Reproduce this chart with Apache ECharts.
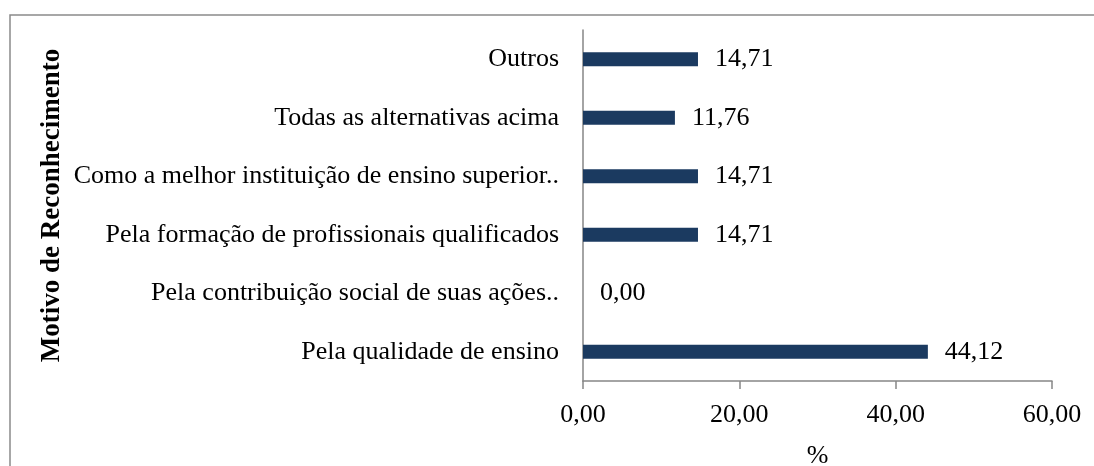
<!DOCTYPE html>
<html>
<head>
<meta charset="utf-8">
<script src="https://cdn.jsdelivr.net/npm/echarts@6/dist/echarts.min.js"></script>
<style>
html,body{margin:0;padding:0;background:#fff;}
#chart{width:1094px;height:466px;}
</style>
</head>
<body>
<div id="chart"></div>
<script>
var categories = [
  "Pela qualidade de ensino",
  "Pela contribuição social de suas ações..",
  "Pela formação de profissionais qualificados",
  "Como a melhor instituição de ensino superior..",
  "Todas as alternativas acima",
  "Outros"
];
var values = [44.12, 0.00, 14.71, 14.71, 11.76, 14.71];
var xTicks = { min: 0, max: 60, interval: 20 };

var font = "Liberation Serif";
function fmt(v){ return Number(v).toFixed(2).replace('.', ','); }

var chart = echarts.init(document.getElementById('chart'));
chart.setOption({
  animation: false,
  backgroundColor: '#fff',
  textStyle: { fontFamily: font },
  graphic: [{
    type: 'rect',
    shape: { x: 10, y: 15, width: 1300, height: 700 },
    style: { fill: 'none', stroke: '#8a8a8a', lineWidth: 1.5 },
    silent: true
  }],
  grid: { left: 583, right: 42, top: 30, bottom: 85, containLabel: false, outerBoundsMode: 'none' },
  xAxis: {
    type: 'value',
    min: xTicks.min, max: xTicks.max, interval: xTicks.interval,
    name: '%',
    nameLocation: 'middle',
    nameGap: 62,
    nameTextStyle: { color: '#000', fontSize: 26, fontFamily: font },
    axisLine: { show: true, lineStyle: { color: '#868686', width: 1.5 } },
    axisTick: { show: true, length: 8, lineStyle: { color: '#868686', width: 1.5 } },
    splitLine: { show: false },
    axisLabel: { color: '#000', fontSize: 26, fontFamily: font, margin: 21, formatter: fmt }
  },
  yAxis: {
    type: 'category',
    data: categories,
    name: 'Motivo de Reconhecimento',
    nameLocation: 'middle',
    nameGap: 517,
    nameTextStyle: { color: '#000', fontSize: 27, fontWeight: 'bold', fontFamily: font },
    axisLine: { show: true, lineStyle: { color: '#868686', width: 1.5 } },
    axisTick: { show: false },
    splitLine: { show: false },
    axisLabel: { color: '#000', fontSize: 26, fontFamily: font, margin: 24 }
  },
  series: [{
    type: 'bar',
    data: values,
    barWidth: 14,
    itemStyle: { color: '#1b3a60' },
    label: {
      show: true, position: 'right', distance: 17,
      color: '#000', fontSize: 26, fontFamily: font,
      formatter: function(p){ return fmt(p.value); }
    }
  }]
});
</script>
</body>
</html>
